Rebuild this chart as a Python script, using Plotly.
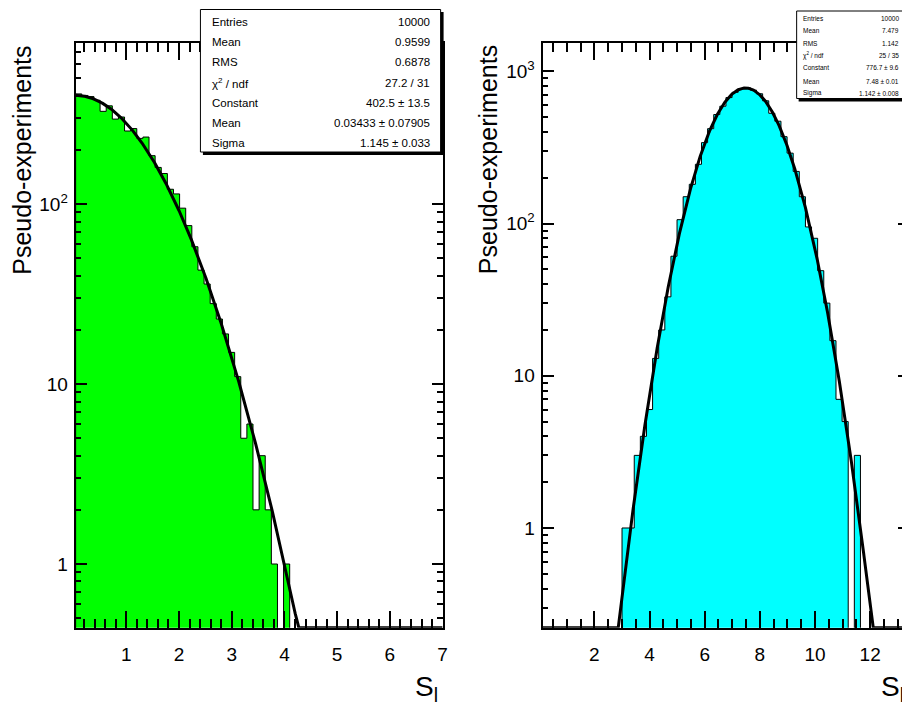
import numpy as np
import plotly.graph_objects as go

# ---------------- data ----------------
# Left panel histogram: 60 bins between 0.04 and 7
left_lo, left_hi = 0.04, 7.0
left_counts = [410, 402, 396, 378, 328, 352, 297, 305, 255, 263,
               232, 236, 186, 160, 148, 121, 114, 95, 76, 58,
               43, 36, 28, 23, 19, 15, 11, 5, 6, 2,
               4, 2, 1, 0, 1, 0, 0, 0, 0, 0,
               0, 0, 0, 0, 0, 0, 0, 0, 0, 0,
               0, 0, 0, 0, 0, 0, 0, 0, 0, 0]
left_fit = (402.5, 0.03433, 1.145)   # Constant, Mean, Sigma

# Right panel histogram: 60 bins starting at 0.12, width 0.2217
right_lo, right_width = 0.12, 0.2217
right_counts = [0, 0, 0, 0, 0, 0, 0, 0, 0, 0,
                0, 0, 0, 1, 1, 3, 4, 6, 13, 20,
                33, 61, 106, 150, 181, 245, 340, 420, 520, 590,
                672, 728, 768, 780, 752, 712, 640, 530, 470, 372,
                290, 220, 150, 95, 80, 49, 30, 17, 7, 5,
                0, 3, 0, 0, 0, 0, 0, 0, 0, 0]
right_fit = (776.7, 7.48, 1.142)

left_stats_labels = ["Entries", "Mean", "RMS", "χ<sup>2</sup> / ndf", "Constant", "Mean", "Sigma"]
left_stats_values = ["10000", "0.9599", "0.6878", "27.2 / 31", "402.5 ± 13.5", "0.03433 ± 0.07905", "1.145 ± 0.033"]
right_stats_labels = ["Entries", "Mean", "RMS", "χ<sup>2</sup> / ndf", "Constant", "Mean", "Sigma"]
right_stats_values = ["10000", "7.479", "1.142", "25 / 35", "776.7 ± 9.6", "7.48 ± 0.01", "1.142 ± 0.008"]

left_xticks = [1, 2, 3, 4, 5, 6, 7]
right_xticks = [2, 4, 6, 8, 10, 12]
left_yticks = [1, 10, 100]
left_yticktext = ["1", "10", "10<sup>2</sup>"]
right_yticks = [1, 10, 100, 1000]
right_yticktext = ["1", "10", "10<sup>2</sup>", "10<sup>3</sup>"]

# ---------------- geometry ----------------
W, H = 910, 702
OFF = 8  # page body margin
FONT = "Liberation Sans, Arial, Helvetica, sans-serif"


def fx(p):
    return (p - OFF) / W


def fy(p):
    return 1 - (p - OFF) / H


frame_top, frame_bot = 43.3, 627.7
left_frame = (76, 445)
right_frame = (545.5, 914)
left_xrange = [0.04, 7.0]
right_xrange = [0.12, 13.41]
left_yrange = [-0.354, 2.894]
right_yrange = [-0.655, 3.184]

FLOOR = 1e-3


def step_polygon(lo, width, counts):
    xs, ys = [lo], [FLOOR]
    for i, c in enumerate(counts):
        v = c if c > 0 else FLOOR
        xs += [lo + i * width, lo + (i + 1) * width]
        ys += [v, v]
    xs.append(lo + len(counts) * width)
    ys.append(FLOOR)
    return xs, ys


def gauss_curve(params, xr, ymin):
    c, m, s = params
    x = np.linspace(xr[0], xr[1], 800)
    y = c * np.exp(-0.5 * ((x - m) / s) ** 2)
    return x, np.maximum(y, ymin)


def minor_log(lo, hi):
    vals = []
    for d in range(-2, 5):
        for k in range(2, 10):
            v = k * 10.0 ** d
            if 10 ** lo <= v <= 10 ** hi:
                vals.append(v)
    return vals


fig = go.Figure()

lx, ly = step_polygon(left_lo, (left_hi - left_lo) / len(left_counts), left_counts)
fig.add_trace(go.Scatter(x=lx, y=ly, mode="lines", fill="toself", fillcolor="#00ff00",
                         line=dict(color="black", width=1), xaxis="x", yaxis="y",
                         hoverinfo="skip", showlegend=False))
fx1, fy1 = gauss_curve(left_fit, left_xrange, 10 ** left_yrange[0])
fig.add_trace(go.Scatter(x=fx1, y=fy1, mode="lines", line=dict(color="black", width=3),
                         xaxis="x", yaxis="y", showlegend=False))

rx, ry = step_polygon(right_lo, right_width, right_counts)
fig.add_trace(go.Scatter(x=rx, y=ry, mode="lines", fill="toself", fillcolor="#00ffff",
                         line=dict(color="black", width=1), xaxis="x2", yaxis="y2",
                         hoverinfo="skip", showlegend=False))
fx2, fy2 = gauss_curve(right_fit, right_xrange, 10 ** right_yrange[0])
fig.add_trace(go.Scatter(x=fx2, y=fy2, mode="lines", line=dict(color="black", width=3),
                         xaxis="x2", yaxis="y2", showlegend=False))

common_x = dict(showline=True, linewidth=2, linecolor="black", mirror="ticks",
                showgrid=False, zeroline=False, ticks="inside", ticklen=17,
                tickwidth=1.5, tickcolor="black",
                tickfont=dict(family=FONT, size=19, color="black"),
                ticklabelstandoff=8)
common_y = dict(type="log", showline=True, linewidth=2, linecolor="black", mirror="ticks",
                showgrid=False, zeroline=False, ticks="inside", ticklen=11,
                tickwidth=1.5, tickcolor="black",
                tickfont=dict(family=FONT, size=19, color="black"),
                ticklabelstandoff=2)

ydom = [fy(frame_bot), fy(frame_top)]

fig.update_layout(
    width=W, height=H,
    margin=dict(l=0, r=0, t=0, b=0),
    paper_bgcolor="white", plot_bgcolor="white",
    showlegend=False,
    xaxis=dict(domain=[fx(left_frame[0]), fx(left_frame[1])], range=left_xrange, anchor="y",
               tickmode="array", tickvals=left_xticks,
               minor=dict(dtick=0.2, tick0=0, ticks="inside", ticklen=9, tickwidth=1.5, tickcolor="black"),
               **common_x),
    yaxis=dict(domain=ydom, range=left_yrange, anchor="x",
               tickmode="array", tickvals=left_yticks, ticktext=left_yticktext,
               minor=dict(tickmode="array", tickvals=minor_log(*left_yrange), ticks="inside",
                          ticklen=5.5, tickwidth=1.5, tickcolor="black"),
               **common_y),
    xaxis2=dict(domain=[fx(right_frame[0]), fx(right_frame[1])], range=right_xrange, anchor="y2",
                tickmode="array", tickvals=right_xticks,
                minor=dict(dtick=0.5, tick0=0, ticks="inside", ticklen=9, tickwidth=1.5, tickcolor="black"),
                **common_x),
    yaxis2=dict(domain=ydom, range=right_yrange, anchor="x2",
                tickmode="array", tickvals=right_yticks, ticktext=right_yticktext,
                minor=dict(tickmode="array", tickvals=minor_log(*right_yrange), ticks="inside",
                           ticklen=5.5, tickwidth=1.5, tickcolor="black"),
                **common_y),
)

annotations = []
# axis titles
for xc in (22, 490):
    annotations.append(dict(text="Pseudo-experiments", textangle=-90, x=fx(xc), y=fy(frame_top),
                            xref="paper", yref="paper", xanchor="center", yanchor="top",
                            showarrow=False, font=dict(family=FONT, size=25, color="black")))
for xr in (442, 911):
    annotations.append(dict(text="S<sub>l</sub>", x=fx(xr), y=fy(688), xref="paper", yref="paper",
                            xanchor="right", yanchor="middle", showarrow=False,
                            font=dict(family=FONT, size=28, color="black")))

shapes = []


def stat_box(box, shadow, labels, values, lab_x, val_x, rows, fsize):
    shapes.append(dict(type="rect", xref="paper", yref="paper",
                       x0=fx(shadow[0]), x1=fx(shadow[1]), y0=fy(shadow[3]), y1=fy(shadow[2]),
                       fillcolor="black", line=dict(width=0), layer="above"))
    shapes.append(dict(type="rect", xref="paper", yref="paper",
                       x0=fx(box[0]), x1=fx(box[1]), y0=fy(box[3]), y1=fy(box[2]),
                       fillcolor="white", line=dict(color="black", width=1), layer="above"))
    for lab, val, r in zip(labels, values, rows):
        annotations.append(dict(text=lab, x=fx(lab_x), y=fy(r), xref="paper", yref="paper",
                                xanchor="left", yanchor="middle", showarrow=False,
                                font=dict(family=FONT, size=fsize, color="black")))
        annotations.append(dict(text=val, x=fx(val_x), y=fy(r), xref="paper", yref="paper",
                                xanchor="right", yanchor="middle", showarrow=False,
                                font=dict(family=FONT, size=fsize, color="black")))


stat_box((201.5, 443, 9.5, 152), (204, 446, 12, 155), left_stats_labels, left_stats_values,
         211, 434, [21.7, 41.7, 62.3, 83.3, 103.3, 123.3, 143.3], 11.5)
stat_box((801, 909, 11, 98.5), (803, 912, 13, 101.5), right_stats_labels, right_stats_values,
         805, 906, [18.3, 30.7, 43.3, 55, 67.7, 81, 93.3], 6.5)

fig.update_layout(annotations=annotations, shapes=shapes)
fig.write_html("out.html")
